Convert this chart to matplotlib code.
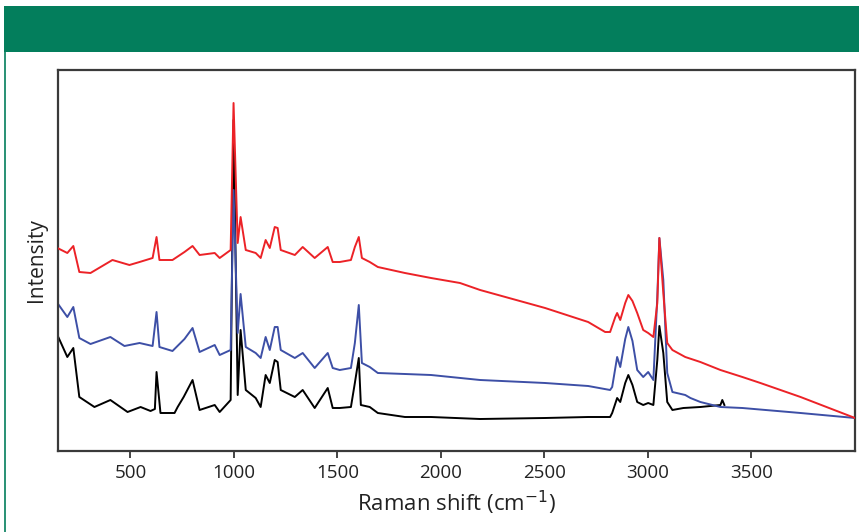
#!/usr/bin/env python3
"""Raman spectra of three samples, stacked, with the green banner of the source figure."""

import matplotlib
matplotlib.use("Agg")
import matplotlib.pyplot as plt
from matplotlib.patches import Rectangle
from matplotlib.lines import Line2D

plt.rcParams["font.family"] = ["Open Sans", "DejaVu Sans"]

# Traced spectra: Raman shift (cm-1) and intensity (a.u.)
BLACK_SHIFT = [147, 195, 224, 253, 326, 403, 486, 549, 597, 618, 626, 645, 713, 728, 757,
               800, 834, 907, 931, 984, 998, 1018, 1032, 1057, 1105, 1129, 1153, 1173,
               1197, 1211, 1226, 1294, 1332, 1390, 1453, 1477, 1511, 1565, 1584, 1603,
               1613, 1656, 1695, 1826, 1952, 2189, 2503, 2711, 2817, 2827, 2851, 2866,
               2890, 2905, 2925, 2948, 2977, 3001, 3026, 3045, 3055, 3074, 3093, 3118,
               3171, 3253, 3350, 3359, 3369]
BLACK_INT = [116, 94, 103, 54, 44, 51, 39, 44, 40, 42, 79, 38, 38, 44, 54,
             71, 41, 46, 39, 51, 331, 56, 121, 61, 53, 44, 76, 68,
             91, 89, 61, 54, 61, 43, 63, 43, 43, 44, 68, 93,
             46, 44, 38, 34, 34, 32, 33, 34, 34, 38, 53, 49,
             68, 76, 66, 49, 46, 48, 46, 91, 125, 98, 49, 41,
             43, 44, 46, 51, 46]

BLUE_SHIFT = [147, 195, 224, 253, 307, 403, 471, 544, 607, 626, 640, 703, 761, 800, 834,
              907, 931, 984, 998, 1018, 1032, 1057, 1105, 1129, 1153, 1173, 1197, 1211,
              1226, 1294, 1332, 1390, 1453, 1477, 1511, 1565, 1584, 1603, 1618, 1656,
              1695, 1826, 1952, 2189, 2503, 2711, 2817, 2827, 2851, 2866, 2890, 2905,
              2925, 2948, 2977, 3001, 3026, 3045, 3055, 3074, 3093, 3118, 3180, 3205,
              3253, 3350, 3456, 3737, 4000]
BLUE_INT = [148, 134, 144, 113, 107, 114, 105, 108, 105, 139, 104, 100, 112, 123, 99,
            106, 96, 101, 261, 118, 157, 104, 98, 93, 114, 101, 124, 124,
            101, 93, 98, 83, 98, 83, 81, 83, 108, 146, 88, 84,
            78, 77, 76, 71, 68, 65, 61, 64, 94, 84, 112, 124,
            110, 81, 74, 79, 71, 154, 213, 171, 78, 59, 56, 53,
            49, 44, 43, 38, 33]

RED_SHIFT = [147, 195, 224, 253, 307, 413, 495, 544, 607, 626, 640, 703, 761, 800, 834,
             907, 931, 984, 998, 1018, 1032, 1057, 1105, 1129, 1153, 1173, 1197, 1211,
             1226, 1294, 1332, 1390, 1453, 1477, 1511, 1565, 1584, 1603, 1618, 1656,
             1695, 1826, 1952, 2092, 2189, 2503, 2711, 2793, 2817, 2842, 2851, 2866,
             2890, 2905, 2925, 2948, 2977, 3001, 3026, 3045, 3055, 3074, 3093, 3118,
             3180, 3253, 3350, 3456, 3543, 3737, 4000]
RED_INT = [203, 198, 205, 179, 178, 191, 186, 189, 193, 214, 191, 191, 199, 205, 196,
           198, 193, 201, 348, 208, 234, 201, 198, 193, 211, 203, 224, 223,
           201, 196, 204, 193, 204, 189, 189, 191, 204, 214, 193, 189,
           184, 178, 173, 168, 161, 143, 129, 119, 119, 134, 138, 131,
           148, 156, 150, 138, 121, 118, 114, 148, 213, 158, 108, 101,
           94, 89, 81, 74, 68, 54, 33]

TICKS = [500, 1000, 1500, 2000, 2500, 3000, 3500]

W, H = 859, 532


def main() -> None:
    fig = plt.figure(figsize=(W / 100, H / 100), dpi=100)

    # green banner and left frame line
    fig.patches.append(Rectangle((4 / W, 1 - 52 / H), 1 - 4 / W, 46 / H,
                                 transform=fig.transFigure, facecolor="#037e5c",
                                 edgecolor="none", zorder=0))
    fig.lines.append(Line2D([4.5 / W, 4.5 / W], [0, 1 - 52 / H],
                            transform=fig.transFigure, color="#037e5c", linewidth=1.2))

    ax = fig.add_axes([58 / W, 1 - 451 / H, 797 / W, 381 / H])
    ax.plot(RED_SHIFT, RED_INT, color="#ec2227", linewidth=1.4, zorder=3)
    ax.plot(BLUE_SHIFT, BLUE_INT, color="#3d4fa6", linewidth=1.4, zorder=2)
    ax.plot(BLACK_SHIFT, BLACK_INT, color="black", linewidth=1.4, zorder=1)

    ax.set_xlim(150, 4000)
    ax.set_ylim(0, 381)
    ax.set_xticks(TICKS)
    ax.set_yticks([])
    ax.tick_params(axis="x", direction="out", length=5, width=1.4, color="#444444",
                   labelsize=13.5, labelcolor="#222222", pad=4)
    for spine in ax.spines.values():
        spine.set_color("#3a3a3a")
        spine.set_linewidth(1.6)

    ax.set_xlabel("Raman shift (cm$^{-1}$)", fontsize=16, color="#222222", labelpad=5)
    ax.set_ylabel("Intensity", fontsize=15, color="#222222", labelpad=8)

    fig.savefig("out.png", dpi=100, facecolor="white")


if __name__ == "__main__":
    main()
